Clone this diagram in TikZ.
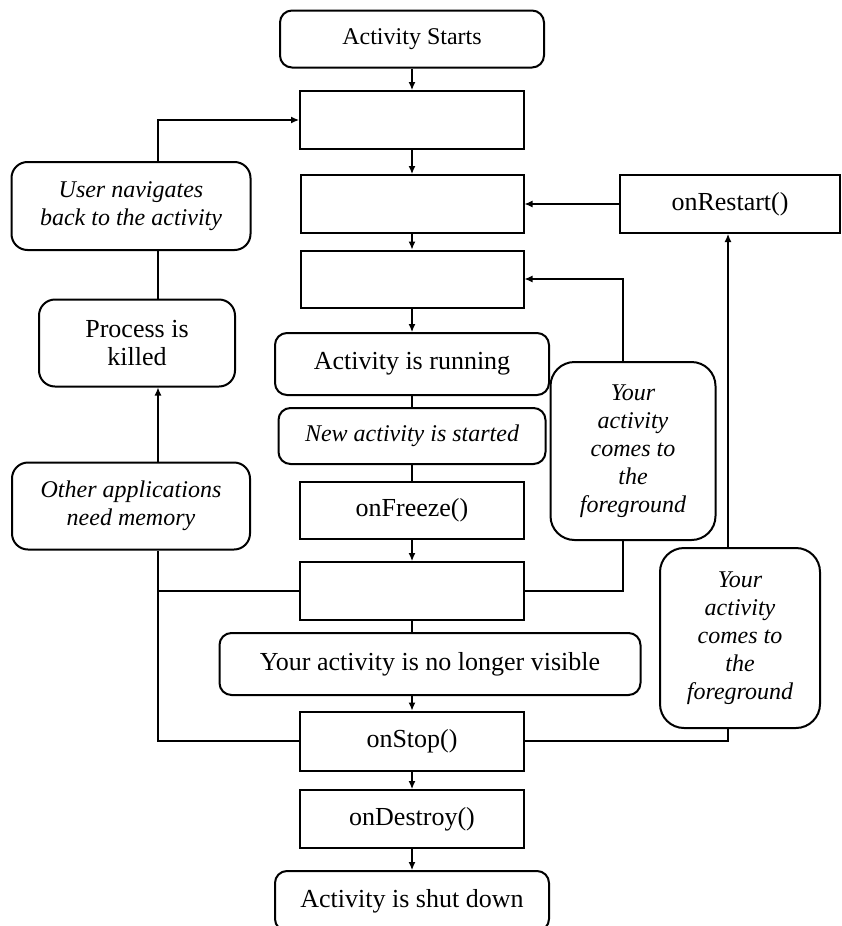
\documentclass[tikz,border=0pt]{standalone}
\usepackage{fontspec}
\setmainfont{Liberation Serif}
\usetikzlibrary{arrows.meta}
\begin{document}
\begin{tikzpicture}[x=1pt,y=-1pt,
		box/.style={draw,line width=2pt,inner sep=0pt,align=center,font=\fontsize{26}{28}\selectfont},
		rbox/.style={box,rounded corners=12pt},
		ibox/.style={rbox,font=\fontsize{24}{28}\selectfont\itshape},
		fgbox/.style={ibox,rounded corners=24pt},
		link/.style={line width=1.2pt},
		arr/.style={link,-{Latex[length=8pt,width=7pt]}}]
		\useasboundingbox (0,0) rectangle (842,926);
		
		\node[rbox,minimum width=264pt,minimum height=57pt,font=\fontsize{24}{27}\selectfont] (start) at (412,39) {Activity Starts};
		\node[box,minimum width=224pt,minimum height=58pt] (create) at (412,120) {};
		\node[box,minimum width=223pt,minimum height=58pt] (onstart) at (412,204) {};
		\node[box,minimum width=223pt,minimum height=57pt] (resume) at (412,279) {};
		\node[rbox,minimum width=274pt,minimum height=62pt] (running) at (412,364) {Activity is running};
		\node[ibox,minimum width=267pt,minimum height=56pt] (newact) at (412,436) {New activity is started};
		\node[box,minimum width=224pt,minimum height=57pt] (freeze) at (412,510) {onFreeze()};
		\node[box,minimum width=224pt,minimum height=58pt] (pause) at (412,591) {};
		\node[rbox,minimum width=421pt,minimum height=62pt] (novisible) at (430,664) {Your activity is no longer visible};
		\node[box,minimum width=224pt,minimum height=59pt] (stop) at (412,741) {onStop()};
		\node[box,minimum width=224pt,minimum height=58pt] (destroy) at (412,819) {onDestroy()};
		\node[rbox,minimum width=274pt,minimum height=60pt] (shut) at (412,901) {Activity is shut down};
		
		\node[box,minimum width=220pt,minimum height=58pt] (restart) at (730,204) {onRestart()};
		\node[ibox,rounded corners=16pt,minimum width=239pt,minimum height=88pt] (user) at (131,206) {User navigates\\back to the activity};
		\node[rbox,rounded corners=16pt,minimum width=196pt,minimum height=87pt] (killed) at (137,343) {Process is\\killed};
		\node[ibox,rounded corners=16pt,minimum width=238pt,minimum height=87pt] (others) at (131,506) {Other applications\\need memory};
		\node[fgbox,minimum width=165pt,minimum height=178pt] (fg1) at (633,451) {Your\\activity\\comes to\\the\\foreground};
		\node[fgbox,minimum width=160pt,minimum height=180pt] (fg2) at (740,638) {Your\\activity\\comes to\\the\\foreground};
		
		\coordinate (left) at (158,0);
		\coordinate (right1) at (623,0);
		\coordinate (right2) at (728,0);
		
		% main column
		\draw[arr] (start) to (create);
		\draw[arr] (create) to (onstart);
		\draw[arr] (onstart) to (resume);
		\draw[arr] (resume) to (running);
		\draw[link] (running) to (newact);
		\draw[link] (newact) to (freeze);
		\draw[arr] (freeze) to (pause);
		\draw[link] (pause.south) to (pause.south |- novisible.north);
		\draw[arr] (stop.north |- novisible.south) to (stop.north);
		\draw[arr] (stop) to (destroy);
		\draw[arr] (destroy) to (shut.north);
		
		% left loop
		\draw[link] (stop.west) -- (stop.west -| left) -- (left |- others.south);
		\draw[link] (pause.west) -- (pause.west -| left);
		\draw[arr] (left |- others.north) -- (left |- killed.south);
		\draw[link] (left |- killed.north) -- (left |- user.south);
		\draw[arr] (left |- user.north) -- (left |- create.west) -- (create.west);
		
		% right loops
		\draw[link] (pause.east) -- (pause.east -| right1) -- (right1 |- fg1.south);
		\draw[arr] (right1 |- fg1.north) -- (right1 |- resume.east) -- (resume.east);
		\draw[link] (stop.east) -- (stop.east -| right2) -- (right2 |- fg2.south);
		\draw[arr] (right2 |- fg2.north) -- (right2 |- restart.south);
		\draw[arr] (restart.west) -- (onstart.east);
\end{tikzpicture}
\end{document}
